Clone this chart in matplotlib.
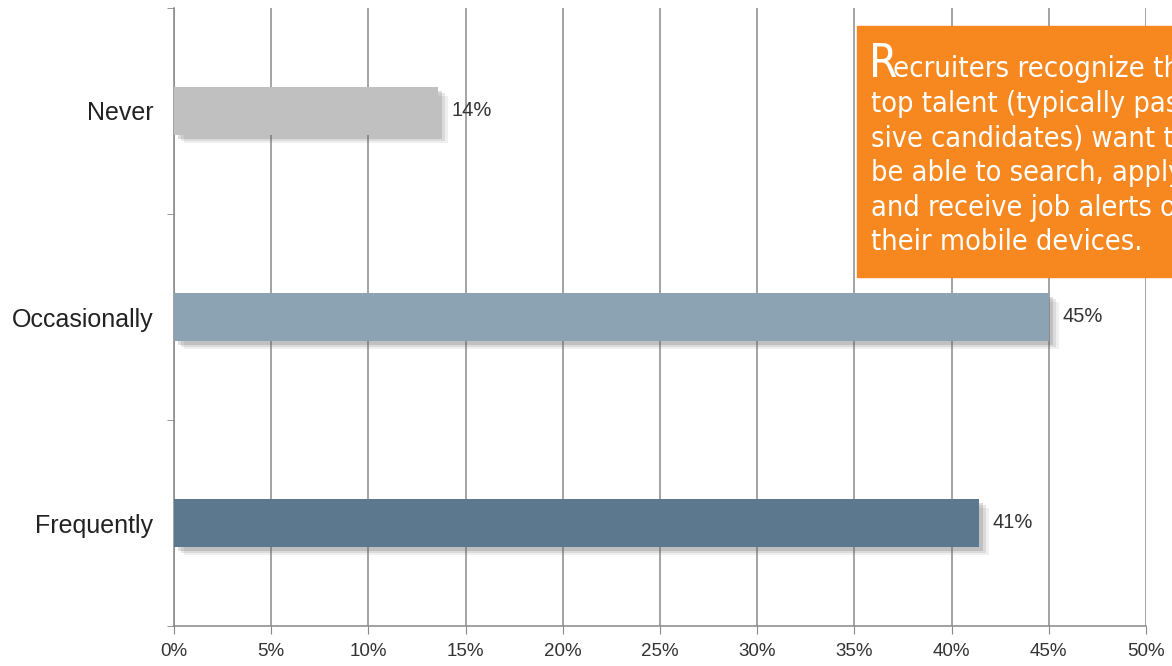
import matplotlib
matplotlib.use("Agg")
import matplotlib.pyplot as plt
from matplotlib.patches import Rectangle

# data
categories = ["Never", "Occasionally", "Frequently"]
values = [13.6, 45.0, 41.4]
labels = ["14%", "45%", "41%"]
colors = ["#C0C0C0", "#8CA3B3", "#5C788F"]
xticks = [0, 5, 10, 15, 20, 25, 30, 35, 40, 45, 50]

callout_first = "ecruiters recognize that"
callout_rest = ["top talent (typically pas-", "sive candidates) want to",
                "be able to search, apply", "and receive job alerts on",
                "their mobile devices."]

plt.rcParams['font.family'] = ['Liberation Sans', 'DejaVu Sans']

fig = plt.figure(figsize=(11.72, 6.66), dpi=100)
ax = fig.add_axes([174 / 1172, 40 / 666, 972 / 1172, 618 / 666])

ypos = list(range(len(categories)))
bar_h = 0.23

# soft shadow under each bar
for dx, dy, a in [(0.5, 0.04, 0.10), (0.35, 0.03, 0.15), (0.2, 0.02, 0.22)]:
    ax.barh([y + dy for y in ypos], values, height=bar_h, left=dx,
            color="#666666", alpha=a, zorder=2, linewidth=0)
ax.barh(ypos, values, height=bar_h, color=colors, zorder=3, linewidth=0)

for y, v, lab in zip(ypos, values, labels):
    ax.text(v + 0.7, y, lab, va="center", ha="left", fontsize=14.5, color="#333333", zorder=4)

ax.set_xlim(0, 50)
ax.set_ylim(2.5, -0.5)
ax.set_xticks(xticks)
ax.set_xticklabels([f"{t}%" for t in xticks], fontsize=13.5, color="#333333")
ax.set_yticks(ypos)
ax.set_yticklabels(categories, fontsize=18, color="#222222")
ax.set_yticks([-0.5, 0.5, 1.5, 2.5], minor=True)
ax.tick_params(axis="y", which="major", length=0, pad=15)
ax.tick_params(axis="y", which="minor", length=5, color="#888888", direction="out")
ax.tick_params(axis="x", length=6, color="#888888", pad=6)

ax.grid(axis="x", color="#8a8a8a", linewidth=1.1, zorder=0)
ax.set_axisbelow(True)
for s in ["top", "right"]:
    ax.spines[s].set_visible(False)
for s in ["left", "bottom"]:
    ax.spines[s].set_color("#888888")
    ax.spines[s].set_linewidth(1.1)

# orange callout box, running off the right edge
fig.patches.append(Rectangle((857 / 1172, 1 - 277 / 666), 0.4, 251 / 666,
                             transform=fig.transFigure, color="#F7871F", zorder=5))
cond = dict(family=['DejaVu Sans', 'Liberation Sans'], fontstretch='condensed',
            color="white", zorder=6, va="baseline")
fig.text(869 / 1172, 1 - 77 / 666, "R", fontsize=33, **cond)
fig.text(893 / 1172, 1 - 77 / 666, callout_first, fontsize=21, **cond)
for i, line in enumerate(callout_rest):
    fig.text(871 / 1172, 1 - (112 + 34.5 * i) / 666, line, fontsize=20.7, **cond)

fig.savefig("out.png", dpi=100)
